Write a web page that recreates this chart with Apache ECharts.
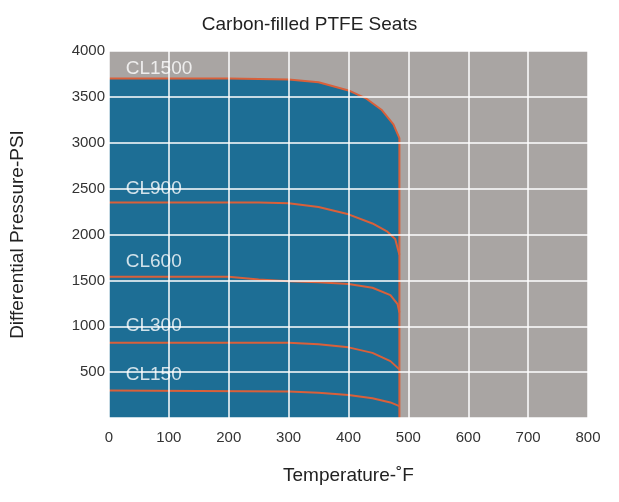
<!DOCTYPE html><html><head><meta charset="utf-8"><script src="https://cdn.jsdelivr.net/npm/echarts@6/dist/echarts.min.js"></script></head><body style="margin:0"><div id="c" style="width:619px;height:502px"></div><script>
var cl1500=[[0,3700],[200,3700],[300,3690],[350,3660],[400,3570],[430,3480],[455,3360],[475,3200],[485,3050],[485,0]];
var cl900=[[0,2350],[250,2350],[300,2340],[350,2300],[400,2220],[440,2120],[465,2030],[478,1950],[485,1780]];
var cl600=[[0,1540],[200,1540],[250,1510],[300,1490],[350,1480],[400,1460],[440,1420],[470,1340],[482,1240],[485,1150]];
var cl300=[[0,820],[300,820],[350,805],[400,770],[440,710],[470,620],[485,530]];
var cl150=[[0,300],[300,290],[350,275],[400,250],[440,215],[470,170],[485,130]];
var labels=[['CL1500',28,3810],['CL900',28,2500],['CL600',28,1700],['CL300',28,1000],['CL150',28,470]];
var xTicks=[0,100,200,300,400,500,600,700,800];
var red='#d9603a';
function ln(d){return {type:'line',data:d,symbol:'none',lineStyle:{color:red,width:2},z:2};}
var ch=echarts.init(document.getElementById('c'));
ch.setOption({
 backgroundColor:'#fff',
 title:{text:'Carbon-filled PTFE Seats',left:'center',top:10,textStyle:{fontFamily:'Liberation Sans',fontSize:19,fontWeight:'normal',color:'#222'}},
 grid:{left:103,right:31,top:51,bottom:84,show:true,backgroundColor:'#a9a5a3',borderWidth:0},
 xAxis:{type:'value',min:0,max:800,interval:100,z:5,name:'Temperature-˚F',nameLocation:'middle',nameGap:48,nameTextStyle:{fontFamily:'Liberation Sans',fontSize:19,color:'#222'},
  axisLine:{show:false},axisTick:{show:false},minorTick:{show:true,splitNumber:5,length:8,lineStyle:{color:'#fff'}},
  axisLabel:{fontFamily:'Liberation Sans',fontSize:15,color:'#333',margin:12},splitLine:{lineStyle:{color:'#fff',width:1.5}}},
 yAxis:{type:'value',min:0,max:4000,interval:500,z:5,name:'Differential Pressure-PSI',nameLocation:'middle',nameGap:82,nameTextStyle:{fontFamily:'Liberation Sans',fontSize:19,color:'#222'},
  axisLine:{show:false},axisTick:{show:false},minorTick:{show:true,splitNumber:5,length:8,lineStyle:{color:'#fff'}},
  axisLabel:{fontFamily:'Liberation Sans',fontSize:15,color:'#333',margin:4,formatter:function(v){return v===0?'':v;}},splitLine:{lineStyle:{color:'#fff',width:1.5}}},
 series:[
  {type:'line',data:cl1500,symbol:'none',lineStyle:{color:red,width:2},areaStyle:{color:'#1d6e95',opacity:1},z:1},
  ln(cl900),ln(cl600),ln(cl300),ln(cl150),
  {type:'scatter',symbolSize:0,z:6,data:labels.map(function(l){return {value:[l[1],l[2]],name:l[0]};}),
   label:{show:true,position:'right',distance:0,formatter:'{b}',color:'#fff',fontFamily:'Liberation Sans',fontSize:19}}
 ]
});
</script></body></html>
